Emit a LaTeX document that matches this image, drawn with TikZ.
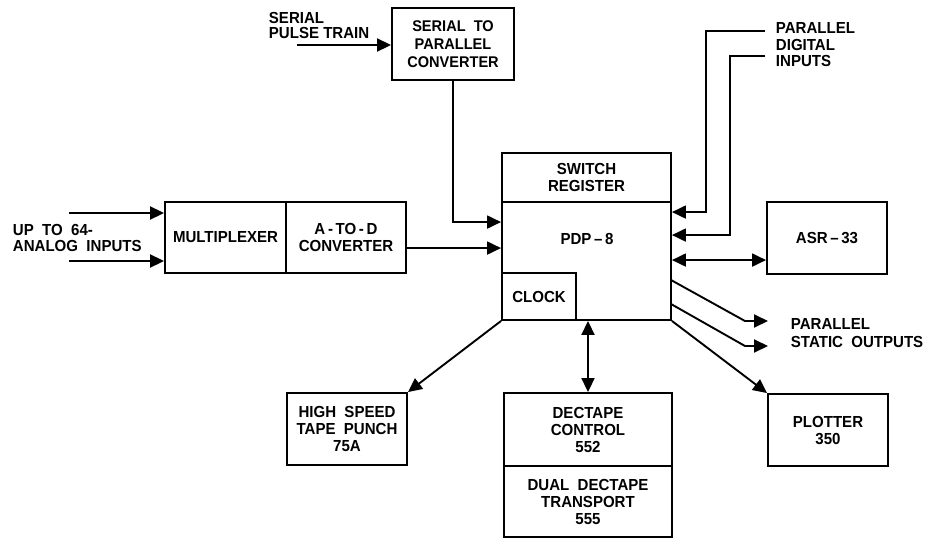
\documentclass[tikz,border=0pt]{standalone}
\usepackage{fontspec}
\setmainfont{Liberation Sans}[UprightFont=* Bold,FakeStretch=0.94]
\usetikzlibrary{arrows.meta,calc}
\begin{document}
\begin{tikzpicture}[x=1pt,y=-1pt,
  line width=1.9pt,
  every node/.style={font=\fontsize{16}{17}\selectfont},
  blk/.style={draw,rectangle,align=center,inner sep=0pt,line width=1.9pt},
  lbl/.style={align=left,inner sep=0pt},
  arr/.style={-{Triangle[length=14pt,width=13pt]}},
  darr/.style={{Triangle[length=14pt,width=13pt]}-{Triangle[length=14pt,width=13pt]}}]
\useasboundingbox (0,0) rectangle (931,539);
% blocks
\node[blk,minimum width=122pt,minimum height=72pt,font=\fontsize{15.5}{18}\selectfont] (conv) at (453,44) {SERIAL\ \ TO\\PARALLEL\\CONVERTER};
\node[blk,minimum width=169pt,minimum height=49pt] (sr) at (586.5,177.5) {SWITCH\\REGISTER};
\node[blk,minimum width=169pt,minimum height=118pt] (pdp) at (586.5,261) {};
\node[inner sep=0pt] (pdptxt) at (587,238.5) {PDP\,--\,8};
\node[blk,minimum width=74pt,minimum height=47pt] (clock) at (539,296.5) {CLOCK};
\node[blk,minimum width=121pt,minimum height=71pt] (mux) at (225.5,237.5) {MULTIPLEXER};
\node[blk,minimum width=120pt,minimum height=71pt] (atod) at (346,237.5) {A\,-\,TO\,-\,D\\CONVERTER};
\node[blk,minimum width=120pt,minimum height=72pt] (asr) at (827,238) {ASR\,--\,33};
\node[blk,minimum width=120pt,minimum height=72pt] (plot) at (828,430) {PLOTTER\\350};
\node[blk,minimum width=120pt,minimum height=72pt] (punch) at (347,429) {HIGH\ \ SPEED\\TAPE\ \ PUNCH\\75A};
\node[blk,minimum width=168pt,minimum height=73pt] (dec) at (588,429.5) {DECTAPE\\CONTROL\\552};
\node[blk,minimum width=168pt,minimum height=71pt] (dual) at (588,501.5) {DUAL\ \ DECTAPE\\TRANSPORT\\555};
% labels
\node[lbl,anchor=north west,font=\fontsize{16}{15.5}\selectfont] (lpulse) at (268,11) {SERIAL\\PULSE\ TRAIN};
\node[lbl,anchor=north west,font=\fontsize{16}{16}\selectfont] (lanalog) at (12,223) {UP\ \ TO\ \ 64-\\ANALOG\ \ INPUTS};
\node[lbl,anchor=north west,font=\fontsize{16}{16.5}\selectfont] (ldig) at (775,22) {PARALLEL\\DIGITAL\\INPUTS};
\node[lbl,anchor=north west,font=\fontsize{16}{18}\selectfont] (lstat) at (790,318) {PARALLEL\\STATIC\ \ OUTPUTS};
% coordinates
\coordinate (ps) at (297,45);
\coordinate (a1) at (69,213);
\coordinate (a2) at (69,261);
\coordinate (d1) at (765,31);
\coordinate (d1b) at (706,31);
\coordinate (d2) at (765,56);
\coordinate (d2b) at (730,56);
\coordinate (s1) at (671,280);
\coordinate (s1b) at (745,321);
\coordinate (s1c) at (768,321);
\coordinate (s2) at (671,304);
\coordinate (s2b) at (745,346);
\coordinate (s2c) at (768,346);
% connectors
\draw[arr] (ps) -- (ps -| conv.west);
\draw[arr] (conv.south) |- ($(pdp.north west)+(0,21)$);
\draw[arr] ($(atod.north east)+(0,47)$) -- ($(pdp.north west)+(0,47)$);
\draw[arr] (a1) -- (a1 -| mux.west);
\draw[arr] (a2) -- (a2 -| mux.west);
\draw[arr] (d1) -- (d1b) |- ($(pdp.north east)+(0,11)$);
\draw[arr] (d2) -- (d2b) |- ($(pdp.north east)+(0,34)$);
\draw[darr] ($(pdp.north east)+(0,59)$) -- ($(asr.north west)+(0,59)$);
\draw[arr] (s1) -- (s1b) -- (s1c);
\draw[arr] (s2) -- (s2b) -- (s2c);
\draw[arr] (pdp.south east) -- (plot.north west);
\draw[arr] (pdp.south west) -- (punch.north east);
\draw[darr] (pdp.south -| dec.north) -- (dec.north);
\end{tikzpicture}
\end{document}
